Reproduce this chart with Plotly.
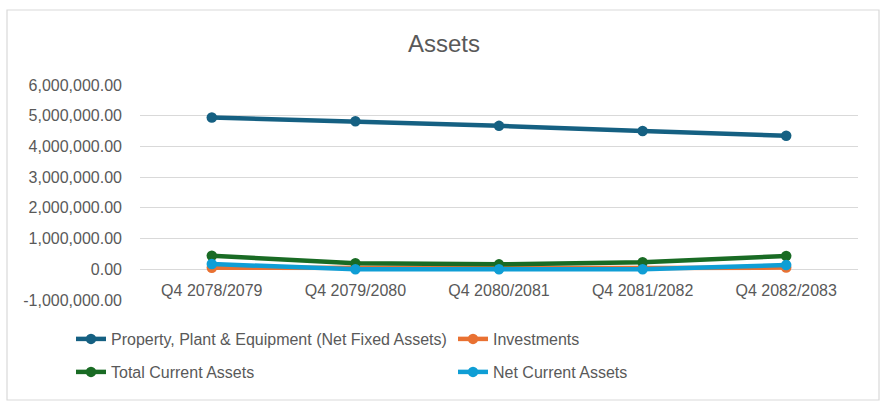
import plotly.graph_objects as go

# data
periods = ['Q4 2078/2079', 'Q4 2079/2080', 'Q4 2080/2081', 'Q4 2081/2082', 'Q4 2082/2083']
ppe = [4940000, 4820000, 4670000, 4500000, 4350000]
investments = [50000, 35000, 35000, 40000, 55000]
total_current = [440000, 200000, 160000, 230000, 430000]
net_current = [170000, 0, 0, 0, 140000]

y_ticks = [-1000000, 0, 1000000, 2000000, 3000000, 4000000, 5000000, 6000000]
y_labels = [f'{v:,.2f}' for v in y_ticks]

series = [
    ('Property, Plant & Equipment (Net Fixed Assets)', ppe, '#156082', 'legend'),
    ('Investments', investments, '#E97132', 'legend'),
    ('Total Current Assets', total_current, '#196B24', 'legend2'),
    ('Net Current Assets', net_current, '#0F9ED5', 'legend2'),
]

font_family = 'Liberation Sans, Arial, sans-serif'
grey = '#595959'

fig = go.Figure()

for name, values, color, leg in series:
    fig.add_trace(go.Scatter(
        x=periods,
        y=values,
        name=name,
        mode='lines+markers',
        line=dict(color=color, width=4.5),
        marker=dict(color=color, size=10.5),
        legend=leg,
    ))

# plot area spans x 140..858, y 85..300 -> used for the outer frame
pw, ph = 718, 215
fig.add_shape(
    type='rect', xref='paper', yref='paper',
    x0=(7 - 140) / pw, x1=(879 - 140) / pw,
    y0=(300 - 400) / ph, y1=(300 - 10) / ph,
    line=dict(color='#D9D9D9', width=1.2),
    fillcolor='rgba(0,0,0,0)', layer='below',
)

legend_style = dict(
    orientation='h',
    x=(71 - 140) / pw, xanchor='left',
    yanchor='middle',
    entrywidth=337,
    font=dict(size=16, color=grey),
    bgcolor='rgba(0,0,0,0)',
)

fig.update_layout(
    width=888,
    height=412,
    margin=dict(l=140, r=30, t=85, b=112),
    paper_bgcolor='white',
    plot_bgcolor='white',
    font=dict(family=font_family, color=grey, size=16),
    title=dict(
        text='Assets',
        x=0.5, xref='container', xanchor='center',
        y=1 - 44 / 412, yref='container', yanchor='middle',
        font=dict(size=24, color=grey),
    ),
    xaxis=dict(
        type='category',
        showgrid=False,
        showline=False,
        ticks='',
        anchor='free',
        position=1 / 7,  # labels sit on the zero line, like Excel
        ticklabelstandoff=10,
        tickfont=dict(size=16, color=grey),
        range=[-0.5, 4.5],
    ),
    yaxis=dict(
        range=[-1000000, 6000000],
        tickvals=y_ticks,
        ticktext=y_labels,
        gridcolor='#D9D9D9',
        gridwidth=1.3,
        zeroline=False,
        showline=False,
        ticks='',
        ticklabelstandoff=17,
        tickfont=dict(size=16, color=grey),
    ),
    legend=dict(legend_style, y=(300 - 339) / ph),
    legend2=dict(legend_style, y=(300 - 372) / ph),
    showlegend=True,
)

fig.write_html(
    "out.html",
    config={'displayModeBar': False},
    post_script="document.body.style.margin='0';document.body.style.overflow='hidden';",
)
